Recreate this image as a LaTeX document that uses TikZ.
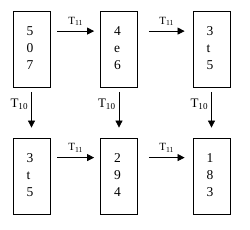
\documentclass[tikz,border=0pt]{standalone}
\usepackage{fontspec}
\setmainfont{Liberation Serif}
\usetikzlibrary{arrows.meta,positioning,calc}
\newcommand{\digits}[3]{\raisebox{3pt}{\begin{tabular}{@{}l@{}}#1\\#2\\#3\end{tabular}}\hspace*{3pt}}

\begin{document}
\begin{tikzpicture}[x=1pt,y=-1pt,>={Triangle[length=7pt,width=7pt]},
  cell/.style={draw,line width=0.8pt,minimum width=37pt,minimum height=76pt,inner sep=0pt,font=\fontsize{13.5}{17}\selectfont},
  hlab/.style={font=\fontsize{11}{12}\selectfont,inner sep=1pt},
  vlab/.style={font=\fontsize{13}{14}\selectfont,inner sep=1pt}]
\useasboundingbox (0,0) rectangle (250,230);
\foreach \n/\x/\a/\b/\c in {1/31.5/5/0/7,2/119/4/e/6,3/211.5/3/t/5}
  \node[cell] (u\n) at (\x,49.5) {\digits{\a}{\b}{\c}};
\foreach \n/\x/\a/\b/\c in {1/31.5/3/t/5,2/119/2/9/4,3/211.5/1/8/3}
  \node[cell] (d\n) at (\x,176) {\digits{\a}{\b}{\c}};
% horizontal steps
\foreach \r in {u,d}{
  \draw[line width=0.8pt,->] ($(\r1.north east)+(7,20)$) -- node[hlab,above=4pt] {T\textsubscript{11}} ($(\r2.north west)+(-6,20)$);
  \draw[line width=0.8pt,->] ($(\r2.north east)+(11,20)$) -- node[hlab,above=4pt] {T\textsubscript{11}} ($(\r3.north west)+(-8,20)$);
}
% vertical steps
\foreach \n in {1,2,3}
  \draw[line width=0.8pt,->] ($(u\n.south)+(0,4)$) -- node[vlab,left=2pt,pos=0.35] {T\textsubscript{10}} ($(d\n.north)+(0,-10)$);
\end{tikzpicture}
\end{document}
